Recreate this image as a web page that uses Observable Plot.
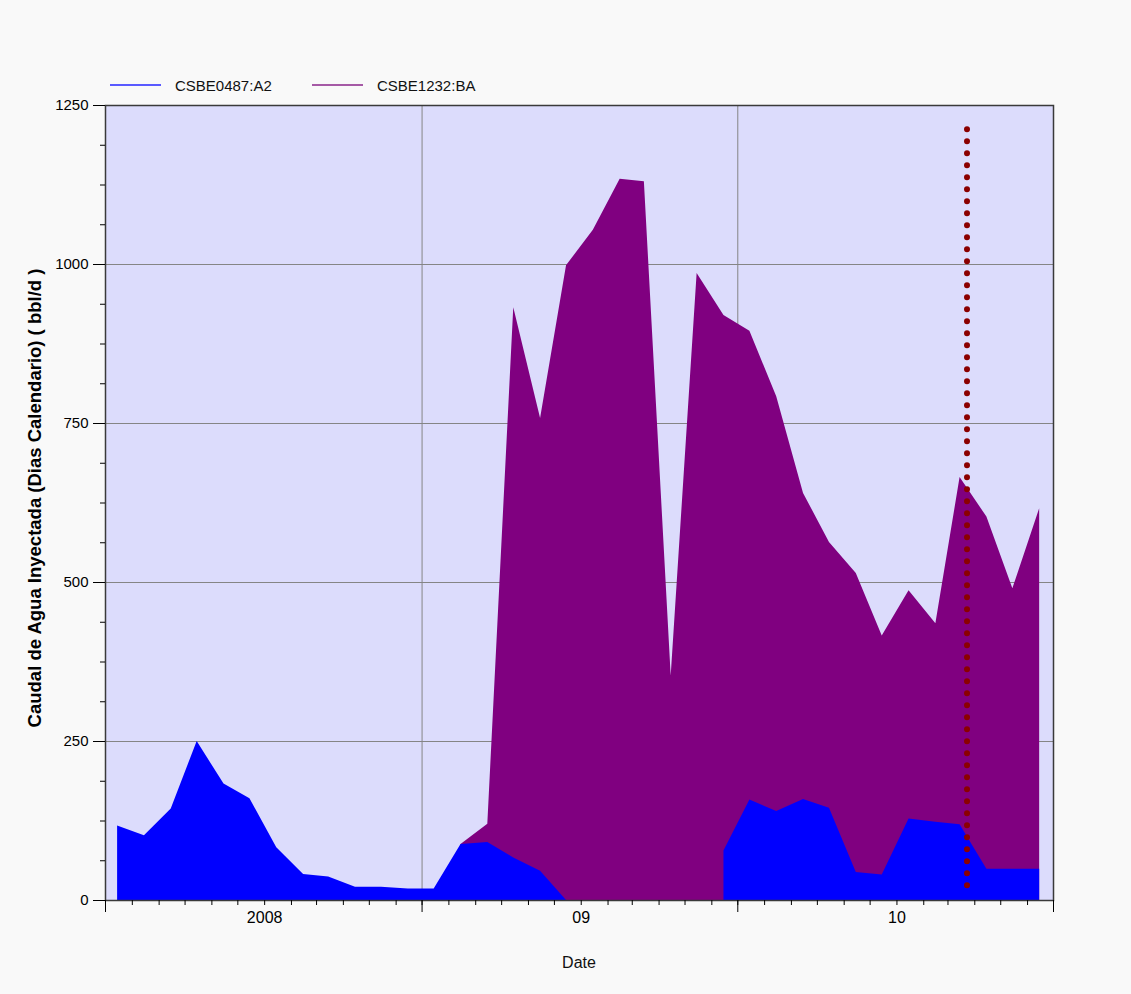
<!DOCTYPE html>
<html>
<head>
<meta charset="utf-8">
<script src="https://cdn.jsdelivr.net/npm/d3@7"></script>
<script src="https://cdn.jsdelivr.net/npm/@observablehq/plot@0.6"></script>
<style>
html, body { margin:0; padding:0; background:#f9f9f9; }
#wrap { position:relative; width:1131px; height:994px; background:#f9f9f9; font-family:"Liberation Sans", Arial, sans-serif; color:#000; overflow:hidden; }
#legend { position:absolute; left:0; top:0; width:1131px; height:70px; }
.sw { position:absolute; height:2px; top:84px; width:51px; }
.lt { position:absolute; top:77px; font-size:15px; line-height:18px; white-space:nowrap; color:#111; }
#chart { position:absolute; left:0; top:70px; }
#ytitle { position:absolute; left:35px; top:498px; transform:translate(-50%,-50%) rotate(-90deg); font-weight:bold; font-size:18.5px; white-space:nowrap; }
#xtitle { position:absolute; left:579px; top:963px; transform:translate(-50%,-50%); font-size:16px; color:#111; }
</style>
</head>
<body>
<div id="wrap">
  <div id="legend"></div>
  <div id="chart"></div>
  <div id="ytitle"></div>
  <div id="xtitle"></div>
</div>
<script>
// ---- data ----
const months = [
  "2007-07","2007-08","2007-09","2007-10","2007-11","2007-12",
  "2008-01","2008-02","2008-03","2008-04","2008-05","2008-06",
  "2008-07","2008-08","2008-09","2008-10","2008-11","2008-12",
  "2009-01","2009-02","2009-03","2009-04","2009-05","2009-06",
  "2009-07","2009-08","2009-09","2009-10","2009-11","2009-12",
  "2010-01","2010-02","2010-03","2010-04","2010-05","2010-06"
];
const seriesNames = ["CSBE0487:A2", "CSBE1232:BA"];
const seriesColors = ["#0000ff", "#800080"];
const legendLineColors = ["#5a5aff", "#a65aa6"];
const blueValues = [
  117, 102, 144, 250, 183, 160,
  83, 41, 37, 21, 21, 18,
  18, 88, 91, 67, 46, 0,
  null, null, null, null, null, 78,
  158, 140, 159, 145, 44, 40,
  128, 123, 119, 49, 49, 49
];
const purpleValues = [
  null, null, null, null, null, null,
  null, null, null, null, null, null,
  null, 88, 120, 932, 758, 998,
  1054, 1134, 1130, 353, 986, 920,
  895, 792, 640, 563, 514, 416,
  487, 435, 665, 603, 490, 616
];
const yTickValues = [0, 250, 500, 750, 1000, 1250];
const yGridValues = [250, 500, 750, 1000];
const yMinorStep = 62.5;
const xDomain = ["2007-07-01", "2010-07-01"];
const xMajorTicks = ["2007-07-01", "2008-07-01", "2009-07-01", "2010-07-01"];
const xGridDates = ["2008-07-01", "2009-07-01"];
const xLabelDates = ["2008-01-01", "2009-01-01", "2010-01-01"];
const xLabels = ["2008", "09", "10"];
const markerDate = "2010-03-23";
const markerRange = [23, 1213];
const yTitle = "Caudal de Agua Inyectada (Dias Calendario) ( bbl/d )";
const xTitle = "Date";

// ---- build ----
const D = s => new Date(s + "T00:00:00Z");
const rows = months.map((m, i) => ({date: D(m + "-15"), a: blueValues[i], b: purpleValues[i]}));
const yMinor = d3.range(0, 1250 + 1e-6, yMinorStep);
const monthTicks = d3.utcMonth.range(D(xDomain[0]), new Date(D(xDomain[1]).getTime() + 1));

const chart = Plot.plot({
  width: 1131,
  height: 924,
  marginLeft: 105,
  marginRight: 78,
  marginTop: 35,
  marginBottom: 94,
  style: {background: "transparent", fontFamily: "'Liberation Sans', Arial, sans-serif", color: "#000", overflow: "visible"},
  x: {type: "utc", domain: xDomain.map(D)},
  y: {domain: [0, 1250]},
  marks: [
    Plot.frame({fill: "#dcdcfc", stroke: null}),
    Plot.gridY(yGridValues, {stroke: "#858585", strokeOpacity: 1}),
    Plot.gridX(xGridDates.map(D), {stroke: "#858585", strokeOpacity: 1}),
    Plot.areaY(rows, {x: "date", y1: 0, y2: "b", fill: seriesColors[1], curve: "linear"}),
    Plot.areaY(rows, {x: "date", y1: 0, y2: "a", fill: seriesColors[0], curve: "linear"}),
    Plot.ruleX([D(markerDate)], {y1: markerRange[0], y2: markerRange[1], stroke: "#8b0000", strokeWidth: 6, strokeDasharray: "0,12", strokeLinecap: "round"}),
    Plot.frame({stroke: "#3a3a3a", strokeWidth: 1.5}),
    Plot.axisY(yTickValues, {tickSize: 12, tickPadding: 5, fontSize: 15, label: null, stroke: "#000", tickFormat: d => String(d)}),
    Plot.axisY(yMinor, {tickSize: 5, tickFormat: () => "", label: null, stroke: "#000"}),
    Plot.axisX(monthTicks, {tickSize: 5, tickFormat: () => "", label: null, stroke: "#000"}),
    Plot.axisX(xMajorTicks.map(D), {tickSize: 12, tickFormat: () => "", label: null, stroke: "#000"}),
    Plot.axisX(xLabelDates.map(D), {tickSize: 0, tickPadding: 11, fontSize: 16, label: null,
      tickFormat: d => xLabels[xLabelDates.indexOf(d.toISOString().slice(0, 10))]})
  ]
});
document.getElementById("chart").appendChild(chart);

// legend
const legend = document.getElementById("legend");
const legendPos = [[110, 175], [312, 377]];
seriesNames.forEach((name, i) => {
  const sw = document.createElement("div");
  sw.className = "sw";
  sw.style.left = legendPos[i][0] + "px";
  sw.style.backgroundColor = legendLineColors[i];
  legend.appendChild(sw);
  const t = document.createElement("div");
  t.className = "lt";
  t.style.left = legendPos[i][1] + "px";
  t.textContent = name;
  legend.appendChild(t);
});
document.getElementById("ytitle").textContent = yTitle;
document.getElementById("xtitle").textContent = xTitle;
</script>
</body>
</html>
